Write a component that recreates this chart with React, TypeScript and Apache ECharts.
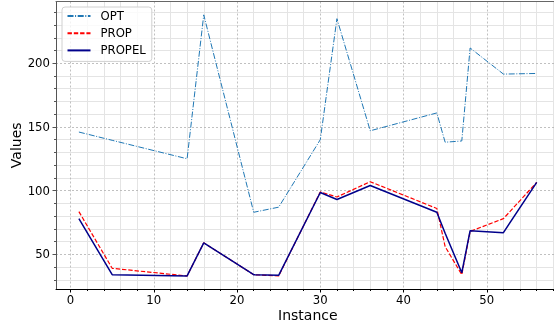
import React, { useEffect, useRef } from "react";
import * as echarts from "echarts";

const instances = [1, 5, 14, 16, 22, 25, 30, 32, 36, 44, 45, 47, 48, 52, 56];
const optValues = [146, 139.5, 125, 238, 83, 87, 140, 235, 147, 161, 138, 139, 212, 191.5, 192];
const propValues = [83.5, 39, 33, 59, 34, 33, 99, 95, 107, 86, 56, 34, 68, 78, 106.5];
const propelValues = [78, 34, 33, 59, 34, 33.5, 98.5, 93, 104, 83, 66.5, 35.5, 68.5, 67, 106.5];

const xMajorTicks = [0, 10, 20, 30, 40, 50];
const xMinorTicks = [2, 4, 6, 8, 12, 14, 16, 18, 22, 24, 26, 28, 32, 34, 36, 38, 42, 44, 46, 48, 52, 54, 56, 58];
const yMajorTicks = [50, 100, 150, 200];
const yMinorTicks = [30, 40, 60, 70, 80, 90, 110, 120, 130, 140, 160, 170, 180, 190, 210, 220, 230, 240];

const X_MIN = -1.75;
const X_MAX = 58.75;
const Y_MIN = 22.75;
const Y_MAX = 248.5;

const FONT = "DejaVu Sans";

export default function App() {
  const ref = useRef<HTMLDivElement>(null);
  useEffect(() => {
    if (!ref.current) return;
    const chart = echarts.init(ref.current, undefined, { renderer: "svg" });
    const zip = (ys: number[]) => instances.map((x, i) => [x, ys[i]]);
    chart.setOption({
      animation: false,
      textStyle: { fontFamily: FONT },
      grid: { left: 56, top: 1.5, width: 503.6, height: 287.5, containLabel: false, outerBoundsMode: "none" },
      xAxis: [
        {
          type: "value", min: X_MIN, max: X_MAX, position: "bottom", z: 1,
          axisLine: { show: true, onZero: false, lineStyle: { color: "#000", width: 1 } },
          axisTick: { show: true, customValues: xMajorTicks, length: 3.5, lineStyle: { color: "#000" } },
          axisLabel: { show: true, customValues: xMajorTicks, margin: 5, color: "#000", fontSize: 11.7, fontFamily: FONT },
          splitLine: { show: true, lineStyle: { color: "#b0b0b0", type: [2, 2], width: 0.8 } },
          name: "Instance", nameLocation: "middle", nameGap: 19, nameMoveOverlap: false,
          nameTextStyle: { fontSize: 14, color: "#000", fontFamily: FONT },
        },
        {
          type: "value", min: X_MIN, max: X_MAX, position: "bottom", z: 0,
          axisLine: { show: false, onZero: false },
          axisTick: { show: true, customValues: xMinorTicks, length: 2, lineStyle: { color: "#000" } },
          axisLabel: { show: false },
          splitLine: { show: true, lineStyle: { color: "#e4e4e4", width: 1 } },
        },
        {
          type: "value", min: X_MIN, max: X_MAX, position: "top", z: 1,
          axisLine: { show: true, onZero: false, lineStyle: { color: "#666", width: 1 } },
          axisTick: { show: false }, axisLabel: { show: false }, splitLine: { show: false },
        },
      ],
      yAxis: [
        {
          type: "value", min: Y_MIN, max: Y_MAX, position: "left", z: 1,
          axisLine: { show: true, onZero: false, lineStyle: { color: "#555", width: 1 } },
          axisTick: { show: true, customValues: yMajorTicks, length: 3.5, lineStyle: { color: "#555" } },
          axisLabel: { show: true, customValues: yMajorTicks, margin: 6, color: "#000", fontSize: 11.7, fontFamily: FONT },
          splitLine: { show: true, lineStyle: { color: "#b0b0b0", type: [2, 2], width: 0.8 } },
          name: "Values", nameLocation: "middle", nameGap: 33, nameMoveOverlap: false,
          nameTextStyle: { fontSize: 14, color: "#000", fontFamily: FONT },
        },
        {
          type: "value", min: Y_MIN, max: Y_MAX, position: "left", z: 0,
          axisLine: { show: false, onZero: false },
          axisTick: { show: true, customValues: yMinorTicks, length: 2, lineStyle: { color: "#555" } },
          axisLabel: { show: false },
          splitLine: { show: true, lineStyle: { color: "#e4e4e4", width: 1 } },
        },
      ],
      legend: {
        orient: "vertical", left: 62, top: 7,
        itemWidth: 23, itemHeight: 10, itemGap: 5.2,
        padding: [3, 6, 5, 4.5],
        backgroundColor: "rgba(255,255,255,0.8)",
        borderColor: "#d0d0d0", borderWidth: 1, borderRadius: 3,
        itemStyle: { opacity: 0 },
        textStyle: { fontSize: 11.7, color: "#000", fontFamily: FONT, padding: [0, 0, 0, 5] },
        data: ["OPT", "PROP", "PROPEL"],
      },
      series: [
        {
          name: "OPT", type: "line", data: zip(optValues), symbol: "none", xAxisIndex: 0, yAxisIndex: 0,
          lineStyle: { color: "#1f77b4", width: 1, type: [6, 1.6, 1, 1.6] }, itemStyle: { color: "#1f77b4" },
        },
        {
          name: "PROP", type: "line", data: zip(propValues), symbol: "none", xAxisIndex: 0, yAxisIndex: 0,
          lineStyle: { color: "#ff0000", width: 1.2, type: [4.4, 1.9] }, itemStyle: { color: "#ff0000" },
        },
        {
          name: "PROPEL", type: "line", data: zip(propelValues), symbol: "none", xAxisIndex: 0, yAxisIndex: 0,
          lineStyle: { color: "#00008b", width: 1.5, type: "solid" }, itemStyle: { color: "#00008b" },
        },
      ],
    });
    return () => chart.dispose();
  }, []);
  return <div ref={ref} style={{ position: "fixed", left: 0, top: 0, width: 554, height: 328 }} />;
}
